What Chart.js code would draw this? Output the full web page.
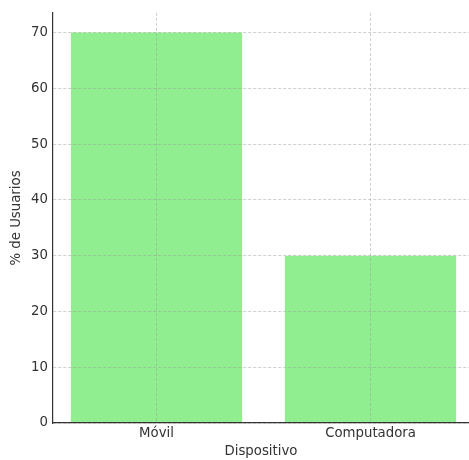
<!DOCTYPE html>
<html lang="es">
<head>
    <meta charset="UTF-8">
    <title>Usuarios por dispositivo</title>
    <script src="https://cdn.jsdelivr.net/npm/chart.js"></script>
    <style>
        body {
            margin: 0;
            background: white;
            overflow: hidden;
        }
        #wrap {
            width: 469px;
            height: 460px;
        }
    </style>
</head>
<body>
    <div id="wrap">
        <canvas id="deviceChart" width="469" height="460"></canvas>
    </div>
    <script>
        // datos
        const categories = ['Móvil', 'Computadora'];
        const userPercent = [70, 30];
        const yTicks = [0, 10, 20, 30, 40, 50, 60, 70];

        const font = { family: 'DejaVu Sans', size: 13.3 };
        const axisColor = '#333333';
        const gridColor = 'rgba(150, 150, 150, 0.45)';

        const points = categories.map((c, i) => ({ x: i, y: userPercent[i] }));

        const config = {
            type: 'bar',
            data: {
                datasets: [{
                    label: '% de Usuarios',
                    data: points,
                    backgroundColor: '#90EE90',
                    borderWidth: 0,
                    barPercentage: 0.8,
                    categoryPercentage: 1.0
                }]
            },
            options: {
                responsive: false,
                animation: false,
                layout: {
                    padding: { top: 12, right: 0, bottom: 0, left: 9 }
                },
                plugins: {
                    legend: { display: false },
                    tooltip: { enabled: false }
                },
                scales: {
                    x: {
                        type: 'linear',
                        offset: false,
                        min: -0.484,
                        max: 1.46,
                        afterBuildTicks: scale => {
                            scale.ticks = categories.map((c, i) => ({ value: i }));
                        },
                        afterFit: scale => {
                            scale.height = 37;
                        },
                        ticks: {
                            color: axisColor,
                            font: font,
                            padding: 3,
                            maxRotation: 0,
                            callback: value => categories[value]
                        },
                        // gridlines go over the bars, like in the original
                        grid: {
                            offset: false,
                            color: gridColor,
                            drawTicks: false,
                            z: 1
                        },
                        border: {
                            color: axisColor,
                            width: 1.2,
                            dash: [3, 2],
                            z: 1
                        },
                        title: {
                            display: true,
                            text: 'Dispositivo',
                            color: axisColor,
                            font: font,
                            padding: { top: 0, bottom: 0 }
                        }
                    },
                    y: {
                        min: 0,
                        max: 73.5,
                        afterBuildTicks: scale => {
                            scale.ticks = yTicks.map(v => ({ value: v }));
                        },
                        ticks: {
                            color: axisColor,
                            font: font,
                            padding: 5
                        },
                        grid: {
                            color: gridColor,
                            drawTicks: false,
                            z: 1
                        },
                        border: {
                            color: axisColor,
                            width: 1.2,
                            dash: [3, 2],
                            z: 1
                        },
                        title: {
                            display: true,
                            text: '% de Usuarios',
                            color: axisColor,
                            font: font,
                            padding: { top: 0, bottom: 1 }
                        }
                    }
                }
            }
        };

        const ctx = document.getElementById('deviceChart').getContext('2d');
        const chart = new Chart(ctx, config);
    </script>
</body>
</html>
